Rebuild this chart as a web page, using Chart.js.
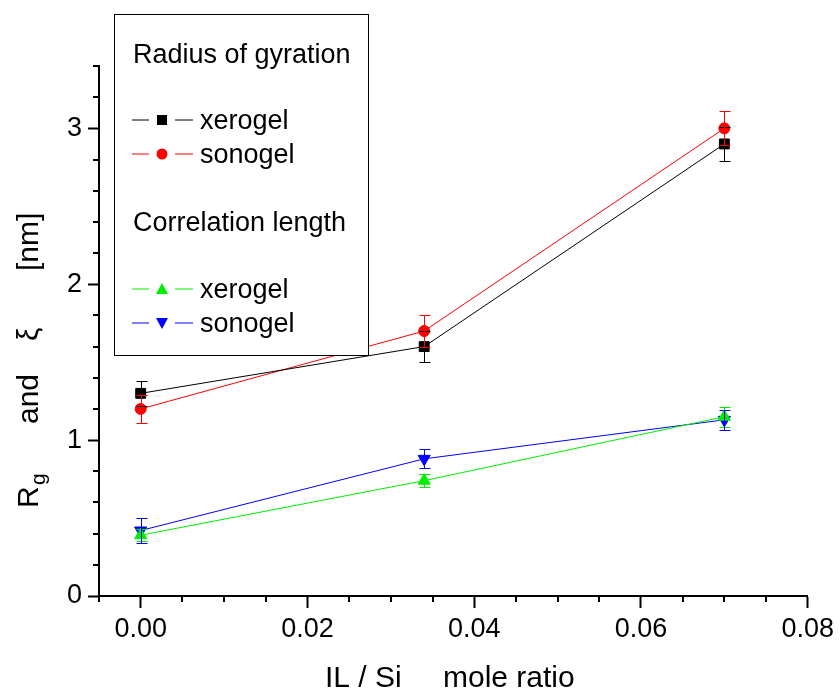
<!DOCTYPE html>
<html>
<head>
<meta charset="utf-8">
<title>Rg and xi</title>
<script src="https://cdn.jsdelivr.net/npm/chart.js@4.4.1/dist/chart.umd.min.js"></script>
<style>
  html, body { margin: 0; padding: 0; background: #fff; }
  #wrap { width: 839px; height: 691px; }
</style>
</head>
<body>
<div id="wrap"><canvas id="myChart" width="839" height="691"></canvas></div>
<script>
// IL/Si mole ratio
const xValues = [0, 0.034, 0.07];

// radius of gyration
const rgXerogel = [1.30, 1.60, 2.90];
const rgXerogelErr = [0.08, 0.10, 0.11];
const rgSonogel = [1.20, 1.70, 3.00];
const rgSonogelErr = [0.09, 0.10, 0.11];

// correlation length
const xiXerogel = [0.39, 0.74, 1.15];
const xiXerogelErr = [0.04, 0.04, 0.065];
const xiSonogel = [0.42, 0.88, 1.13];
const xiSonogelErr = [0.08, 0.06, 0.065];

const xMajor = [0, 0.02, 0.04, 0.06, 0.08];
const xMinor = [-0.005, 0.005, 0.01, 0.015, 0.025, 0.03, 0.035, 0.045, 0.05, 0.055, 0.065, 0.07, 0.075];
const yMajor = [0, 1, 2, 3];
const yMinor = [0.2, 0.4, 0.6, 0.8, 1.2, 1.4, 1.6, 1.8, 2.2, 2.4, 2.6, 2.8, 3.2, 3.4];

const FONT = "'Liberation Sans', Arial, sans-serif";

function pts(ys) {
    return xValues.map((x, i) => ({ x: x, y: ys[i] }));
}

function makeSet(label, ys, errs, color, style, radius, rotation) {
    return {
        label: label,
        data: pts(ys),
        errors: errs,
        borderColor: color,
        backgroundColor: color,
        borderWidth: 1,
        pointStyle: style,
        pointRadius: radius,
        pointRotation: rotation || 0,
        pointBorderWidth: 1,
        pointBackgroundColor: color,
        pointBorderColor: color,
        tension: 0,
        fill: false
    };
}

const datasets = [
    makeSet('xerogel', rgXerogel, rgXerogelErr, '#000000', 'rect', 7),
    makeSet('sonogel', rgSonogel, rgSonogelErr, '#ff0000', 'circle', 5.5),
    makeSet('xerogel', xiXerogel, xiXerogelErr, '#00ee00', 'triangle', 7),
    makeSet('sonogel', xiSonogel, xiSonogelErr, '#0000ff', 'triangle', 7, 180)
];

// error bars, drawn on top of the markers
const errorBars = {
    id: 'errorBars',
    afterDatasetsDraw(chart) {
        const ctx = chart.ctx;
        const xs = chart.scales.x, ys = chart.scales.y;
        ctx.save();
        ctx.lineWidth = 1;
        chart.data.datasets.forEach(ds => {
            ctx.strokeStyle = ds.borderColor;
            ds.data.forEach((p, i) => {
                const e = ds.errors[i];
                const px = Math.round(xs.getPixelForValue(p.x)) + 0.5;
                const top = Math.round(ys.getPixelForValue(p.y + e)) + 0.5;
                const bot = Math.round(ys.getPixelForValue(p.y - e)) + 0.5;
                ctx.beginPath();
                ctx.moveTo(px, top); ctx.lineTo(px, bot);
                ctx.moveTo(px - 5, top); ctx.lineTo(px + 6, top);
                ctx.moveTo(px - 5, bot); ctx.lineTo(px + 6, bot);
                ctx.stroke();
            });
        });
        ctx.restore();
    }
};

// minor ticks, axis titles and the boxed legend
const decorations = {
    id: 'decorations',
    afterDraw(chart) {
        const ctx = chart.ctx;
        const xs = chart.scales.x, ys = chart.scales.y;
        const area = chart.chartArea;
        ctx.save();
        ctx.strokeStyle = '#000';
        ctx.lineWidth = 2;
        ctx.beginPath();
        xMinor.forEach(v => {
            const px = Math.round(xs.getPixelForValue(v));
            ctx.moveTo(px, area.bottom); ctx.lineTo(px, area.bottom + 6);
        });
        yMinor.forEach(v => {
            const py = Math.round(ys.getPixelForValue(v));
            ctx.moveTo(area.left, py); ctx.lineTo(area.left - 6, py);
        });
        ctx.stroke();

        // x title
        ctx.fillStyle = '#000';
        ctx.textBaseline = 'alphabetic';
        ctx.textAlign = 'left';
        ctx.font = '30px ' + FONT;
        ctx.fillText('IL / Si', 325, 687);
        ctx.fillText('mole ratio', 443, 687);

        // y title, rotated
        ctx.save();
        ctx.translate(38, 508);
        ctx.rotate(-Math.PI / 2);
        ctx.font = '30px ' + FONT;
        ctx.fillText('R', 0, 0);
        ctx.font = '21px ' + FONT;
        ctx.fillText('g', 23, 7);
        ctx.font = '30px ' + FONT;
        ctx.fillText('and', 84, 0);
        ctx.fillText('\u03BE', 167, 0);
        ctx.fillText('[nm]', 237, 0);
        ctx.restore();

        // legend box
        ctx.lineWidth = 1;
        ctx.fillStyle = '#fff';
        ctx.fillRect(114.5, 14.5, 254, 341);
        ctx.strokeRect(114.5, 14.5, 254, 341);
        ctx.fillStyle = '#000';
        ctx.font = '27px ' + FONT;
        ctx.fillText('Radius of gyration', 133, 63);
        ctx.fillText('Correlation length', 133, 231);
        const rows = [[0, 120, 129], [1, 154, 163], [2, 289, 298], [3, 323, 332]];
        rows.forEach(r => {
            const ds = chart.data.datasets[r[0]];
            const y = r[1];
            ctx.strokeStyle = ds.borderColor;
            ctx.lineWidth = 1;
            ctx.beginPath();
            ctx.moveTo(132, y); ctx.lineTo(149, y);
            ctx.moveTo(175, y); ctx.lineTo(193, y);
            ctx.stroke();
            ctx.fillStyle = ds.borderColor;
            const cx = 162, cy = r[1];
            ctx.beginPath();
            if (ds.pointStyle === 'rect') {
                ctx.rect(cx - 5, cy - 5, 10, 10);
            } else if (ds.pointStyle === 'circle') {
                ctx.arc(cx, cy, 5.5, 0, Math.PI * 2);
            } else if (ds.pointRotation === 180) {
                ctx.moveTo(cx - 6, cy - 5); ctx.lineTo(cx + 6, cy - 5); ctx.lineTo(cx, cy + 6);
                ctx.closePath();
            } else {
                ctx.moveTo(cx - 6, cy + 5); ctx.lineTo(cx + 6, cy + 5); ctx.lineTo(cx, cy - 6);
                ctx.closePath();
            }
            ctx.fill();
            ctx.fillStyle = '#000';
            ctx.font = '27px ' + FONT;
            ctx.fillText(ds.label, 200, r[2]);
        });
        ctx.restore();
    }
};

const ctx = document.getElementById('myChart').getContext('2d');
const myChart = new Chart(ctx, {
    type: 'line',
    data: { datasets: datasets },
    plugins: [errorBars, decorations],
    options: {
        responsive: false,
        animation: false,
        layout: { padding: { left: 0, top: 66, right: 31, bottom: 0 } },
        plugins: {
            legend: { display: false },
            tooltip: { enabled: false }
        },
        scales: {
            x: {
                type: 'linear',
                min: -0.005,
                max: 0.08,
                afterFit(scale) { scale.height = 95; },
                afterBuildTicks(scale) { scale.ticks = xMajor.map(v => ({ value: v })); },
                border: { display: true, color: '#000', width: 2 },
                grid: { display: true, drawOnChartArea: false, drawTicks: true, tickLength: 12, tickWidth: 2, tickColor: '#000' },
                ticks: {
                    color: '#000',
                    padding: 5,
                    maxRotation: 0,
                    font: { family: FONT, size: 27 },
                    callback: v => v.toFixed(2)
                }
            },
            y: {
                type: 'linear',
                min: 0,
                max: 3.4,
                afterFit(scale) { scale.width = 99; },
                afterBuildTicks(scale) { scale.ticks = yMajor.map(v => ({ value: v })); },
                border: { display: true, color: '#000', width: 2 },
                grid: { display: true, drawOnChartArea: false, drawTicks: true, tickLength: 11, tickWidth: 2, tickColor: '#000' },
                ticks: {
                    color: '#000',
                    padding: 6,
                    font: { family: FONT, size: 27 },
                    callback: v => String(v)
                }
            }
        }
    }
});
</script>
</body>
</html>
